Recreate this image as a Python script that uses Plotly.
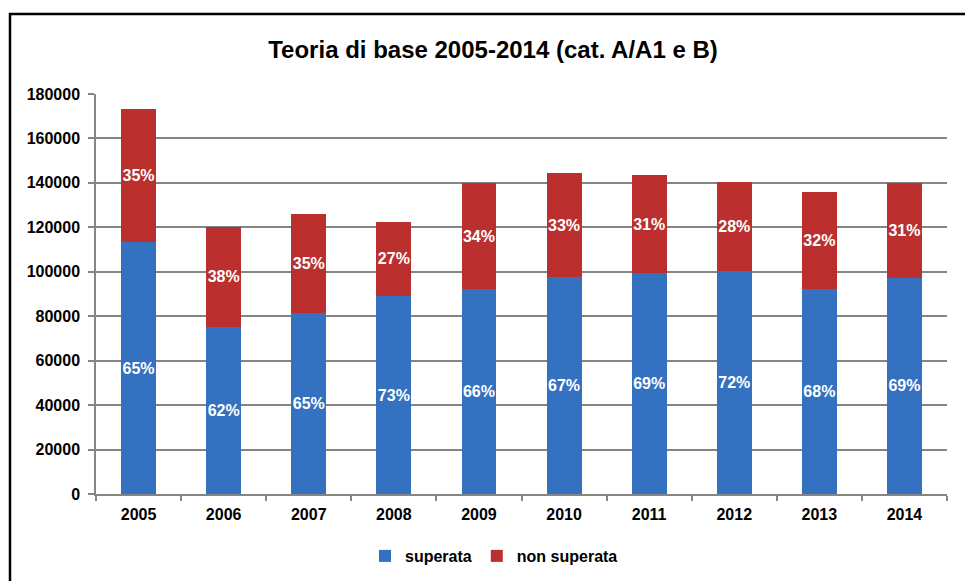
import plotly.graph_objects as go

years = ["2005", "2006", "2007", "2008", "2009", "2010", "2011", "2012", "2013", "2014"]
superata = [113400, 75300, 81600, 89100, 92100, 97500, 99300, 100350, 92250, 97350]
non_superata = [59850, 44850, 44400, 33450, 47700, 47100, 44100, 40200, 43800, 42450]
pct_superata = ["65%", "62%", "65%", "73%", "66%", "67%", "69%", "72%", "68%", "69%"]
pct_non_superata = ["35%", "38%", "35%", "27%", "34%", "33%", "31%", "28%", "32%", "31%"]
y_ticks = [0, 20000, 40000, 60000, 80000, 100000, 120000, 140000, 160000, 180000]

FONT = "Arial, 'Liberation Sans', sans-serif"
label_font = dict(family=FONT, size=16, color="white")

fig = go.Figure()
fig.add_trace(go.Bar(
    x=years, y=superata, name="<b>superata</b>",
    marker=dict(color="#3471c0", line=dict(width=0)),
    text=pct_superata, texttemplate="<b>%{text}</b>",
    textposition="inside", insidetextanchor="middle", constraintext="none",
    textfont=label_font, textangle=0,
))
fig.add_trace(go.Bar(
    x=years, y=non_superata, name="<b>non superata</b>",
    marker=dict(color="#bb302e", line=dict(width=0)),
    text=pct_non_superata, texttemplate="<b>%{text}</b>",
    textposition="inside", insidetextanchor="middle", constraintext="none",
    textfont=label_font, textangle=0,
))

W, H = 965, 581
# plot area in window pixels: x 96..947, y 94..494
L, R, T, B = 96, W - 947, 94, H - 494
pw, ph = W - L - R, H - T - B

def px(x):
    return (x - L) / pw

def py(y):
    return (H - B - y) / ph

fig.update_layout(
    width=W, height=H,
    barmode="stack", bargap=0.59,
    margin=dict(l=L, r=R, t=T, b=B, pad=0, autoexpand=False),
    paper_bgcolor="white", plot_bgcolor="white",
    font=dict(family=FONT, size=15, color="black"),
    title=dict(text="<b>Teoria di base 2005-2014 (cat. A/A1 e B)</b>",
               x=px(493), xref="paper", xanchor="center",
               y=1 - 50 / H, yref="container", yanchor="middle",
               font=dict(family=FONT, size=24, color="black")),
    legend=dict(orientation="h", x=px(494), xanchor="center",
                y=py(556), yanchor="middle", bgcolor="rgba(0,0,0,0)",
                font=dict(family=FONT, size=16, color="black"),
                itemwidth=30, traceorder="normal"),
    xaxis=dict(type="category", showgrid=False, showline=True,
               linecolor="#858585", linewidth=1.5,
               ticks="outside", tickson="boundaries", ticklen=5,
               tickcolor="#858585", tickwidth=1.5,
               tickvals=years, ticktext=[f"<b>{y}</b>" for y in years],
               tickfont=dict(family=FONT, size=16, color="black"),
               ticklabelstandoff=5),
    yaxis=dict(range=[0, 180000], tickvals=y_ticks,
               ticktext=[f"<b>{v}</b>" for v in y_ticks],
               showgrid=True, gridcolor="#858585", gridwidth=1.5,
               showline=True, linecolor="#858585", linewidth=1.5,
               ticks="outside", ticklen=6, tickcolor="#858585", tickwidth=1.5,
               tickfont=dict(family=FONT, size=16, color="black"),
               zeroline=False, ticklabelstandoff=5),
    shapes=[dict(type="rect", xref="paper", yref="paper",
                 x0=px(10), x1=px(1000), y0=py(620), y1=py(14),
                 line=dict(color="black", width=2.5), fillcolor="rgba(0,0,0,0)",
                 layer="above")],
)

fig.write_html(
    "out.html",
    config={"displayModeBar": False},
    post_script="document.body.style.margin='0';document.body.style.overflow='hidden';",
)
